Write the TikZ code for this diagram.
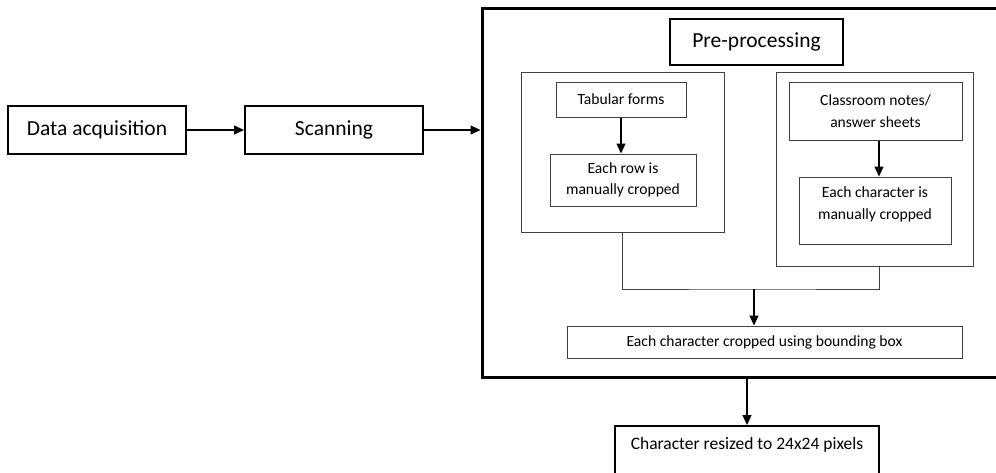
\documentclass[tikz,border=0pt]{standalone}
\usepackage{fontspec}
\setmainfont{Carlito}
\usetikzlibrary{arrows.meta}
\begin{document}
\begin{tikzpicture}[x=1pt,y=-1pt,
  bigbox/.style={draw=black, line width=2pt, inner sep=0pt, font=\fontsize{21.5}{26}\selectfont},
  thinbox/.style={draw=black!75, line width=1pt, inner sep=0pt, font=\fontsize{15.6}{21.5}\selectfont, align=center},
  lbl/.style={inner sep=0pt, align=center, font=\fontsize{15.6}{21.5}\selectfont},
  arr/.style={-{Triangle[length=10pt,width=9pt]}, line width=1.2pt},
  conn/.style={draw=black!75, line width=1pt}]
\useasboundingbox (0,0) rectangle (996,472);
\clip (0,0) rectangle (996,472);
% left chain
\node[bigbox, minimum width=178pt, minimum height=48pt] (da) at (97,130) {Data acquisition};
\node[bigbox, minimum width=178pt, minimum height=48pt] (scan) at (334,130) {Scanning};
% big preprocessing frame
\node[draw=black, line width=3pt, minimum width=528pt, minimum height=369pt, inner sep=0pt] (pre) at (746,192.5) {};
\node[bigbox, line width=2.5pt, minimum width=173pt, minimum height=46pt] (pp) at (756.5,42) {Pre-processing};
% left group
\node[thinbox, minimum width=203pt, minimum height=160pt] (lg) at (622.5,152) {};
\node[thinbox, minimum width=130pt, minimum height=35pt] (tab) at (621,99.5) {Tabular forms};
\node[thinbox, minimum width=146pt, minimum height=52pt] (row) at (623,180) {Each row is\\manually cropped};
% right group
\node[thinbox, minimum width=197pt, minimum height=194pt] (rg) at (874.5,169) {};
\node[thinbox, minimum width=173pt, minimum height=58pt] (cls) at (875.5,111) {Classroom notes/\\answer sheets};
\node[thinbox, minimum width=152pt, minimum height=67pt] (chr) at (875,210.5) {};
\node[lbl] (chrt) at (875,204.5) {Each character is\\manually cropped};
% bounding box step
\node[thinbox, minimum width=395pt, minimum height=32pt] (bb) at (764.5,342) {Each character cropped using bounding box};
% bottom box
\node[bigbox, minimum width=264pt, minimum height=80pt] (bot) at (747,466) {};
\node[inner sep=0pt, font=\fontsize{17.5}{21}\selectfont] (bott) at (747,445) {Character resized to 24x24 pixels};
% connectors
\coordinate (rx) at (879,0);
\draw[arr] (da.east) -- (scan.west);
\draw[arr] (scan.east) -- (scan.east -| pre.west);
\draw[arr] (tab.south) -- (tab.south |- row.north);
\draw[arr] (rx |- cls.south) -- (rx |- chr.north);
\coordinate (m) at (754,289);
\draw[conn] (lg.south) |- (m) -| (rx |- rg.south);
\draw[arr] (m) -- (m |- bb.north);
\draw[arr] (pre.south -| bot.north) -- (bot.north);
\end{tikzpicture}
\end{document}
